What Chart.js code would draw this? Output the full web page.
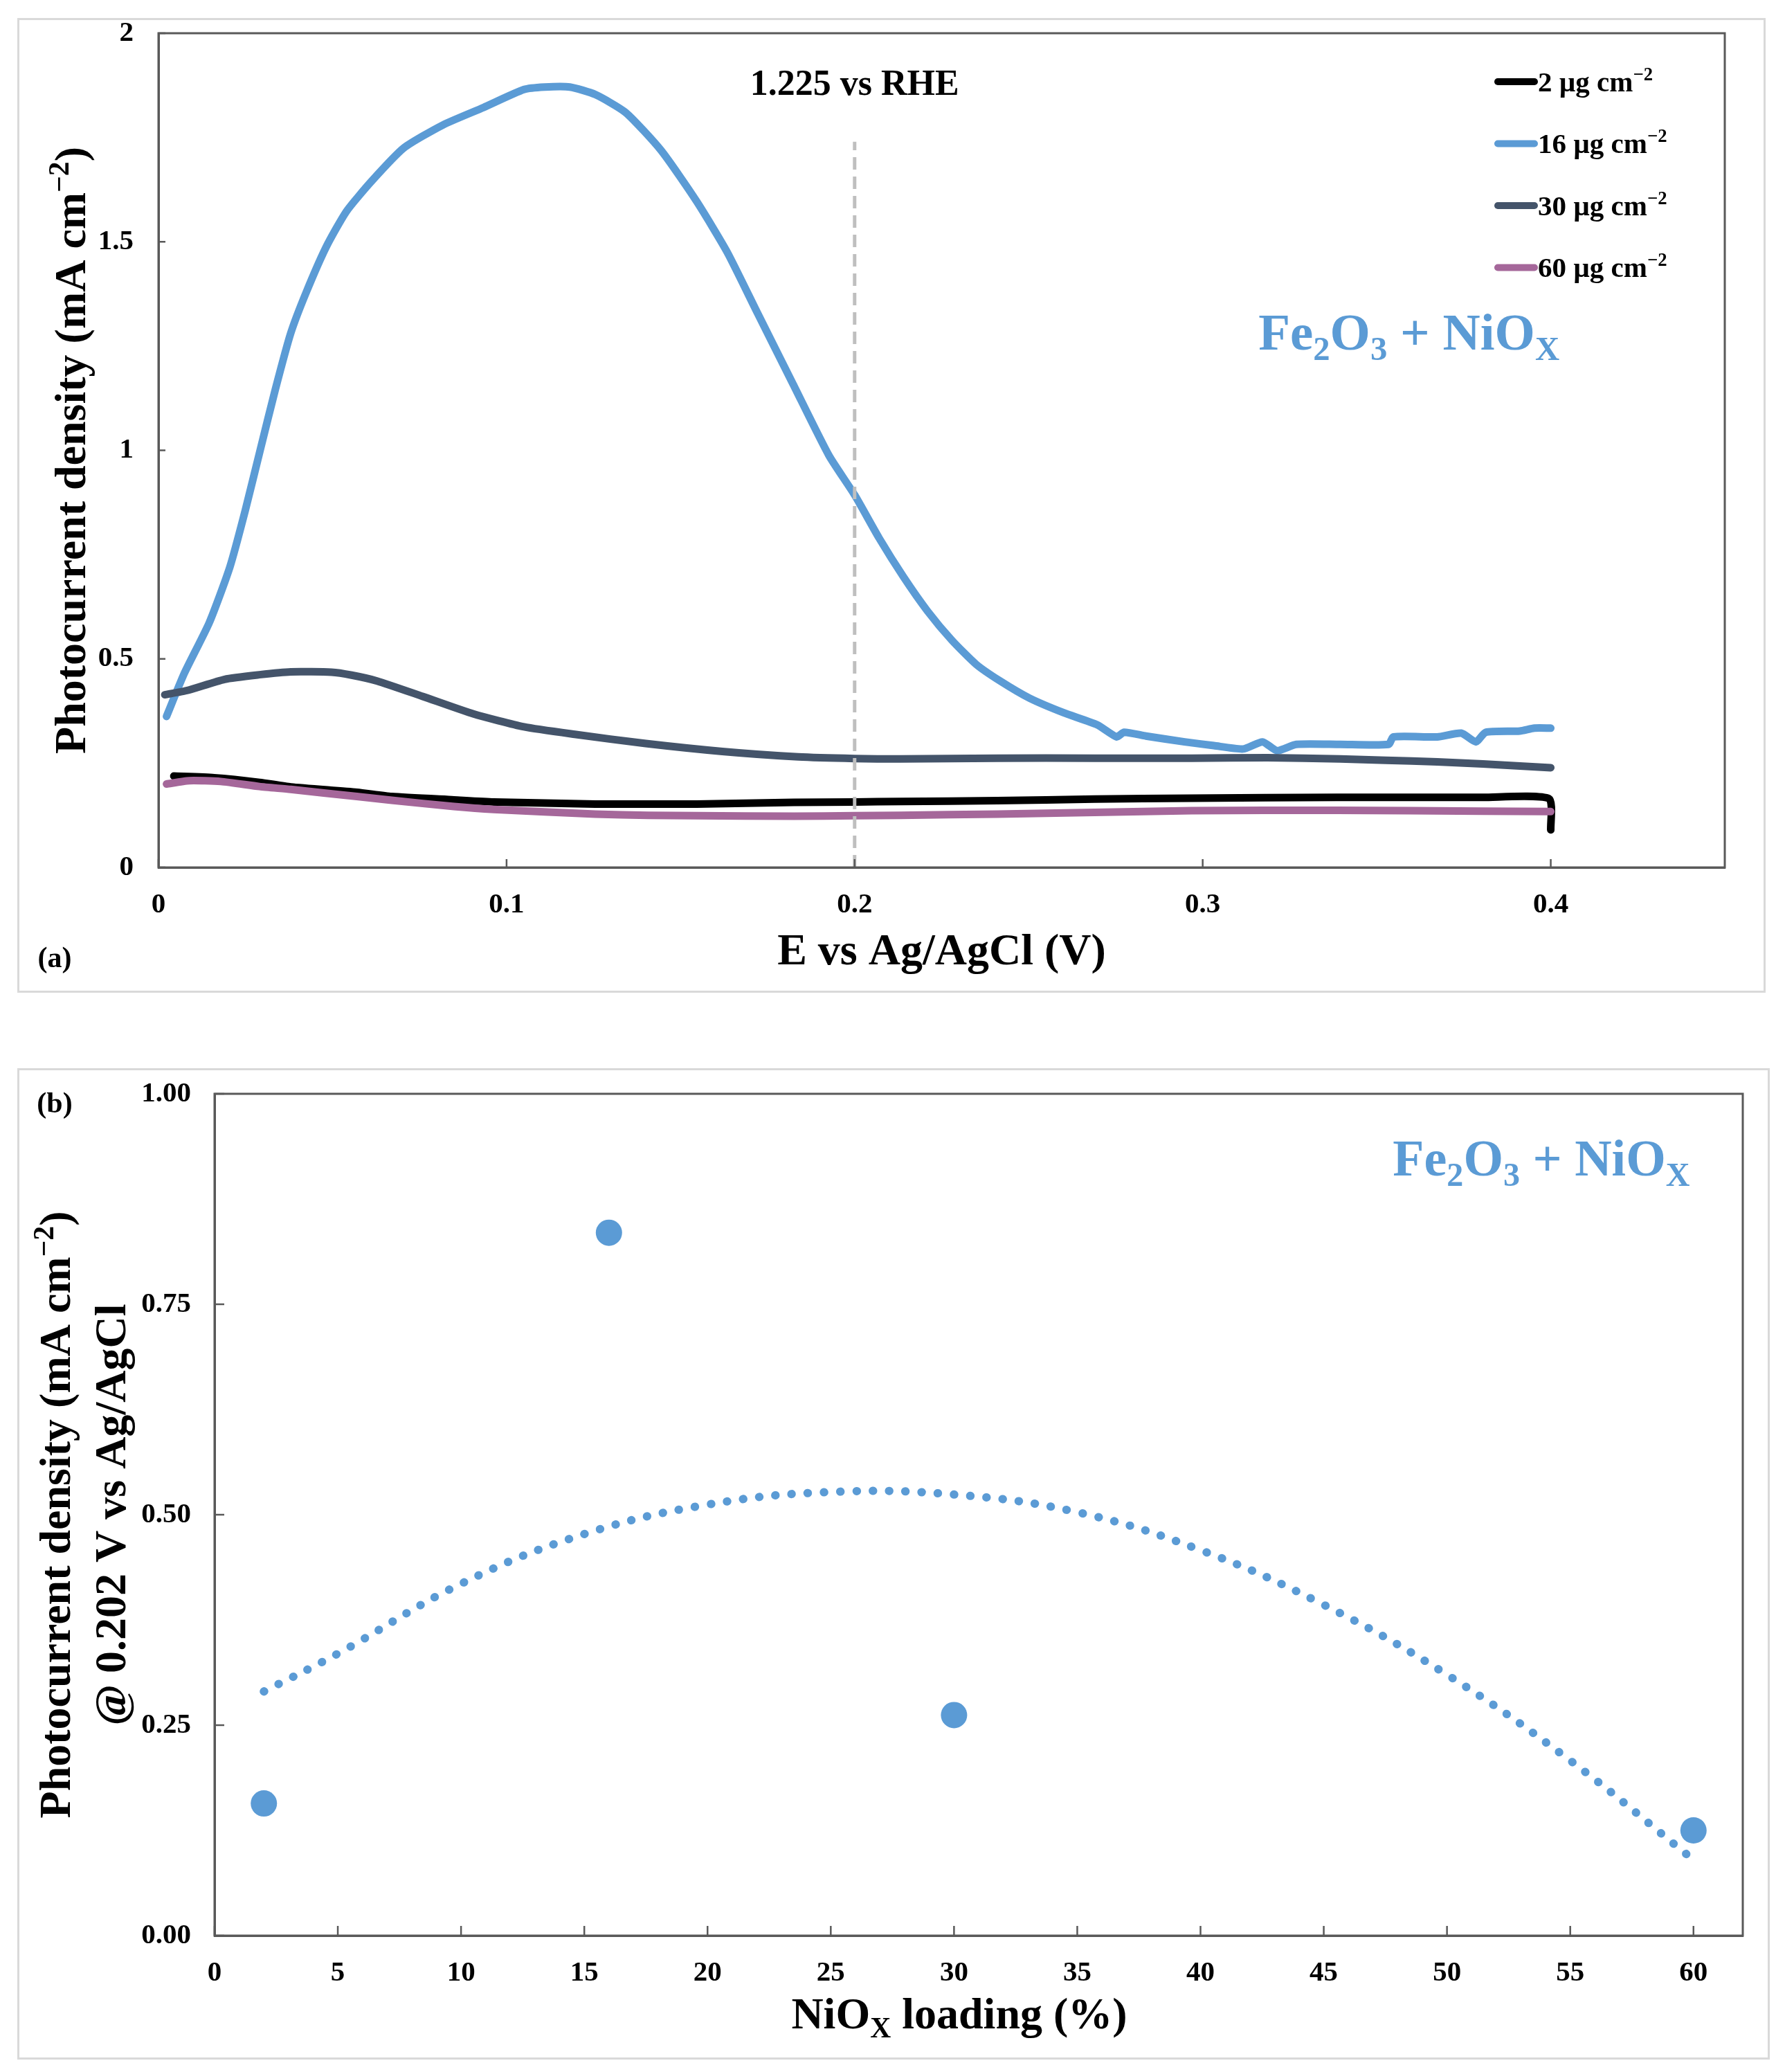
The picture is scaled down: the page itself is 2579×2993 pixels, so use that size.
<!DOCTYPE html>
<html>
<head>
<meta charset="utf-8">
<script src="https://cdn.jsdelivr.net/npm/chart.js@4.4.1/dist/chart.umd.min.js"></script>
<style>
  body { margin: 0; background: #fff; width: 2579px; height: 2993px; position: relative; overflow: hidden; }
  .frame { position: absolute; border: 3px solid #d9d9d9; box-sizing: border-box; }
  canvas { position: absolute; left: 0; }
</style>
</head>
<body>
<div class="frame" style="left:25px;top:26px;width:2526px;height:1408px"></div>
<div class="frame" style="left:25px;top:1543px;width:2532px;height:1432px"></div>
<canvas id="chartA" width="2579" height="1470" style="top:0"></canvas>
<canvas id="chartB" width="2579" height="1523" style="top:1470px"></canvas>
<script>
// ---- panel (a): photocurrent density vs E (V vs Ag/AgCl)
const x2  = [0.0044, 0.016, 0.029, 0.038, 0.057, 0.067, 0.0849, 0.0963, 0.1255, 0.1407, 0.1546, 0.1826, 0.2, 0.213, 0.241, 0.2689, 0.2968, 0.3386, 0.3805, 0.3995, 0.4];
const j2  = [0.219, 0.215, 0.204, 0.193, 0.180, 0.170, 0.162, 0.157, 0.152, 0.152, 0.152, 0.156, 0.157, 0.158, 0.160, 0.164, 0.166, 0.168, 0.168, 0.165, 0.090];

const x16 = [0.0023, 0.0074, 0.0146, 0.0205, 0.0249, 0.0292, 0.0336, 0.038, 0.0424, 0.0482, 0.054, 0.0613, 0.0705, 0.0817, 0.0934, 0.105, 0.1109, 0.1182, 0.1255, 0.1342, 0.1444, 0.1546, 0.1634, 0.1721, 0.1823, 0.1926, 0.2, 0.207, 0.214, 0.2209, 0.2279, 0.2349, 0.2418, 0.2502, 0.26, 0.2697, 0.2753, 0.2774, 0.2837, 0.2948, 0.3032, 0.3116, 0.3172, 0.3213, 0.3269, 0.3395, 0.3534, 0.3548, 0.3674, 0.3743, 0.3785, 0.3813, 0.3911, 0.3953, 0.4];
const j16 = [0.362, 0.465, 0.587, 0.720, 0.855, 1.000, 1.147, 1.281, 1.378, 1.488, 1.573, 1.646, 1.725, 1.780, 1.822, 1.865, 1.871, 1.871, 1.853, 1.810, 1.719, 1.597, 1.475, 1.329, 1.159, 0.988, 0.893, 0.790, 0.697, 0.615, 0.545, 0.487, 0.447, 0.406, 0.371, 0.342, 0.313, 0.324, 0.315, 0.301, 0.292, 0.284, 0.301, 0.280, 0.295, 0.295, 0.295, 0.313, 0.313, 0.322, 0.301, 0.324, 0.327, 0.334, 0.334];

const x30 = [0.0018, 0.0081, 0.019, 0.029, 0.038, 0.0497, 0.0555, 0.0628, 0.0759, 0.0905, 0.105, 0.1196, 0.14, 0.162, 0.1838, 0.2, 0.213, 0.241, 0.2689, 0.2968, 0.3186, 0.3395, 0.3526, 0.3674, 0.3805, 0.4];
const j30 = [0.414, 0.424, 0.451, 0.462, 0.469, 0.468, 0.461, 0.447, 0.410, 0.368, 0.337, 0.319, 0.297, 0.278, 0.265, 0.261, 0.260, 0.262, 0.262, 0.262, 0.263, 0.260, 0.257, 0.253, 0.248, 0.239];

const x60 = [0.0023, 0.0088, 0.0179, 0.029, 0.038, 0.057, 0.067, 0.0849, 0.0963, 0.1255, 0.1407, 0.1546, 0.1826, 0.2, 0.213, 0.241, 0.2689, 0.2968, 0.3386, 0.3805, 0.4];
const j60 = [0.200, 0.208, 0.206, 0.194, 0.187, 0.170, 0.161, 0.146, 0.139, 0.128, 0.125, 0.124, 0.123, 0.124, 0.125, 0.128, 0.132, 0.136, 0.137, 0.135, 0.134];

const loadingLabels = ['2', '16', '30', '60'];
const rheMarkX = 0.2;      // 1.225 V vs RHE marker
const rheMarkTop = 1.74;

// ---- panel (b): photocurrent at 0.202 V vs NiOx loading
const loading = [2, 16, 30, 60];
const jAt0202 = [0.157, 0.835, 0.262, 0.125];
const trendX = [2, 5, 10, 15, 20, 25, 30, 35, 40, 45, 50, 55, 60];
const trendY = [0.290, 0.335, 0.418, 0.477, 0.512, 0.527, 0.524, 0.503, 0.458, 0.393, 0.310, 0.208, 0.090];

// ---- styling
const FONT = '"Liberation Serif", "Times New Roman", serif';
const AXIS = '#595959';
const BLUE = '#5b9bd5';
const lineColors = ['#000000', BLUE, '#44546a', '#a5679a'];

const pts = (xs, ys) => xs.map((x, i) => ({ x: x, y: ys[i] }));

function parseRich(str) {
  const runs = [];
  const re = /([_^])\{([^}]*)\}/g;
  let last = 0, m;
  while ((m = re.exec(str))) {
    if (m.index > last) runs.push({ t: str.slice(last, m.index), k: '' });
    runs.push({ t: m[2], k: m[1] });
    last = re.lastIndex;
  }
  if (last < str.length) runs.push({ t: str.slice(last), k: '' });
  return runs;
}

// y is the visual middle of the text line
function drawRich(ctx, str, x, y, size, opt) {
  opt = opt || {};
  const runs = parseRich(str);
  ctx.save();
  ctx.translate(x, y);
  if (opt.rotate) ctx.rotate(opt.rotate);
  ctx.fillStyle = opt.color || '#000';
  ctx.textBaseline = 'alphabetic';
  const f = s => 'bold ' + s + 'px ' + FONT;
  let w = 0;
  runs.forEach(r => {
    r.s = r.k ? size * 0.65 : size;
    ctx.font = f(r.s);
    r.w = ctx.measureText(r.t).width;
    w += r.w;
  });
  let cx = opt.align === 'left' ? 0 : -w / 2;
  runs.forEach(r => {
    ctx.font = f(r.s);
    const dy = r.k === '_' ? size * 0.2 : r.k === '^' ? -size * 0.38 : 0;
    ctx.fillText(r.t, cx, size * 0.33 + dy);
    cx += r.w;
  });
  ctx.restore();
}

function frameAndTicks(xLen, yLen) {
  return {
    id: 'frameAndTicks',
    afterDraw(chart) {
      const { ctx, chartArea: a, scales } = chart;
      ctx.save();
      ctx.strokeStyle = AXIS;
      ctx.lineWidth = 3;
      ctx.strokeRect(a.left, a.top, a.right - a.left, a.bottom - a.top);
      ctx.lineWidth = 2.5;
      scales.x.ticks.forEach(t => {
        const px = scales.x.getPixelForValue(t.value);
        ctx.beginPath(); ctx.moveTo(px, a.bottom); ctx.lineTo(px, a.bottom - xLen); ctx.stroke();
      });
      scales.y.ticks.forEach(t => {
        const py = scales.y.getPixelForValue(t.value);
        ctx.beginPath(); ctx.moveTo(a.left, py); ctx.lineTo(a.left + yLen, py); ctx.stroke();
      });
      ctx.restore();
    }
  };
}

const tickFont = { family: FONT, size: 41, weight: 'bold' };

// fixed axis box sizes so the plot area sits where it does in the figure
const fixY = w => s => { s.width = w; s.paddingTop = 0; s.paddingBottom = 0; };
const fixX = h => s => { s.height = h; };

// ---------------- chart (a)
const seriesA = [[x2, j2], [x16, j16], [x30, j30], [x60, j60]];
const datasetsA = seriesA.map((s, i) => ({
  label: loadingLabels[i] + ' µg cm^{−2}',
  data: pts(s[0], s[1]),
  borderColor: lineColors[i],
  borderWidth: 11,
  pointRadius: 0,
  tension: 0.2,
  borderCapStyle: 'round',
  borderJoinStyle: 'round',
  order: 4 - i
}));
datasetsA.push({
  label: '',
  skipLegend: true,
  data: [{ x: rheMarkX, y: 0 }, { x: rheMarkX, y: rheMarkTop }],
  borderColor: '#bfbfbf',
  borderWidth: 5,
  borderDash: [18, 10],
  pointRadius: 0,
  order: -1
});

const textA = {
  id: 'textA',
  afterDraw(chart) {
    const { ctx, chartArea: a, scales: { x, y } } = chart;
    drawRich(ctx, 'Photocurrent density (mA cm^{−2})', 102, (a.top + a.bottom) / 2, 64, { rotate: -Math.PI / 2 });
    drawRich(ctx, 'E vs Ag/AgCl (V)', (a.left + a.right) / 2, 1372, 64);
    drawRich(ctx, '(a)', 79, 1383, 42);
    drawRich(ctx, '1.225 vs RHE', x.getPixelForValue(rheMarkX), y.getPixelForValue(1.88), 52);
    drawRich(ctx, 'Fe_{2}O_{3} + NiO_{X}', x.getPixelForValue(0.316), y.getPixelForValue(1.283), 75, { align: 'left', color: BLUE });
    // legend
    chart.data.datasets.filter(d => !d.skipLegend).forEach((d, i) => {
      const ly = a.top + 70 + i * 89.5;
      ctx.save();
      ctx.strokeStyle = d.borderColor;
      ctx.lineWidth = 10;
      ctx.lineCap = 'round';
      ctx.beginPath(); ctx.moveTo(a.right - 328, ly); ctx.lineTo(a.right - 275, ly); ctx.stroke();
      ctx.restore();
      drawRich(ctx, d.label, a.right - 270, ly, 41, { align: 'left' });
    });
  }
};

new Chart(document.getElementById('chartA'), {
  type: 'line',
  data: { datasets: datasetsA },
  options: {
    responsive: false,
    animation: false,
    devicePixelRatio: 1,
    layout: { padding: { left: 0, top: 48, right: 87, bottom: 117 } },
    plugins: { legend: { display: false }, tooltip: { enabled: false } },
    scales: {
      x: {
        type: 'linear', min: 0, max: 0.45,
        ticks: { stepSize: 0.1, includeBounds: false, font: tickFont, color: '#000', padding: 30,
                 maxRotation: 0, callback: v => String(+v.toFixed(1)) },
        grid: { display: false, drawTicks: false },
        border: { color: AXIS, width: 3 },
        afterFit: fixX(100)
      },
      y: {
        type: 'linear', min: 0, max: 2,
        ticks: { stepSize: 0.5, font: tickFont, color: '#000', padding: 36,
                 callback: v => String(+v.toFixed(1)) },
        grid: { display: false, drawTicks: false },
        border: { color: AXIS, width: 3 },
        afterFit: fixY(229)
      }
    }
  },
  plugins: [frameAndTicks(12, 10), textA]
});

// ---------------- chart (b)
const textB = {
  id: 'textB',
  afterDraw(chart) {
    const { ctx, chartArea: a, scales: { x, y } } = chart;
    const cy = (a.top + a.bottom) / 2;
    drawRich(ctx, 'Photocurrent density (mA cm^{−2})', 80, cy, 64, { rotate: -Math.PI / 2 });
    drawRich(ctx, '@ 0.202 V vs Ag/AgCl', 160, cy, 64, { rotate: -Math.PI / 2 });
    drawRich(ctx, 'NiO_{X} loading (%)', (a.left + a.right) / 2 - 28, 1439, 64);
    drawRich(ctx, '(b)', 79, 123, 42);
    drawRich(ctx, 'Fe_{2}O_{3} + NiO_{X}', x.getPixelForValue(47.8), y.getPixelForValue(0.923), 74, { align: 'left', color: BLUE });
  }
};

new Chart(document.getElementById('chartB'), {
  type: 'scatter',
  data: {
    datasets: [
      {
        label: 'measured',
        data: pts(loading, jAt0202),
        pointRadius: 19,
        pointBackgroundColor: BLUE,
        pointBorderWidth: 0,
        order: 0
      },
      {
        label: 'trend',
        type: 'line',
        data: pts(trendX, trendY),
        showLine: true,
        borderColor: BLUE,
        borderWidth: 12,
        borderDash: [0.5, 23],
        borderCapStyle: 'round',
        pointRadius: 0,
        tension: 0.4,
        order: 1
      }
    ]
  },
  options: {
    responsive: false,
    animation: false,
    devicePixelRatio: 1,
    layout: { padding: { left: 0, top: 110, right: 61, bottom: 97 } },
    plugins: { legend: { display: false }, tooltip: { enabled: false } },
    scales: {
      x: {
        type: 'linear', min: 0, max: 62,
        ticks: { stepSize: 5, includeBounds: false, font: tickFont, color: '#000', padding: 30,
                 maxRotation: 0, autoSkip: false, callback: v => String(v) },
        grid: { display: false, drawTicks: false },
        border: { color: AXIS, width: 3 },
        afterFit: fixX(100)
      },
      y: {
        type: 'linear', min: 0, max: 1,
        ticks: { stepSize: 0.25, font: tickFont, color: '#000', padding: 34,
                 callback: v => v.toFixed(2) },
        grid: { display: false, drawTicks: false },
        border: { color: AXIS, width: 3 },
        afterFit: fixY(310)
      }
    }
  },
  plugins: [frameAndTicks(14, 14), textB]
});
</script>
</body>
</html>
